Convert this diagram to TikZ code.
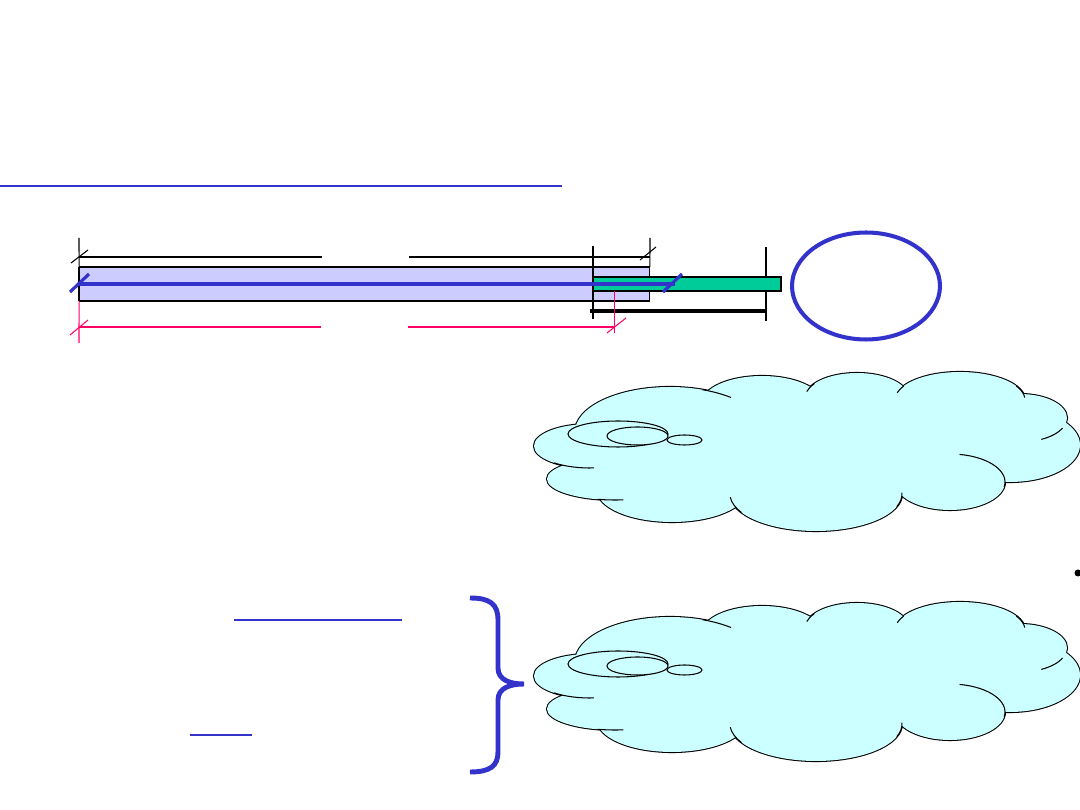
\documentclass[tikz,border=0pt]{standalone}
\usetikzlibrary{shapes.geometric,positioning}

\definecolor{linkblue}{HTML}{3333CC}
\definecolor{barfill}{HTML}{CCCCFF}
\definecolor{tipgreen}{HTML}{00CC99}
\definecolor{cloudcyan}{HTML}{CCFFFF}
\definecolor{dimpink}{HTML}{FF0066}

% puffs: cx/cy/rx/ry, stubs: cx/cy/rx/ry/from/to
\newcommand\cloudpuffs{590/446/56/22, 615/479/68/21, 672/490/75/32, 816/494/86/37,
  950/482/55/28, 1010/445/70/37, 1020/418/47/24, 960/400/65/28, 857/398/52/25,
  762/403/60/27, 670/432/95/45}
\newcommand\cloudstubs{590/446/56/22/86/130, 615/479/68/21/83/105, 816/494/86/37/150/175,
  816/494/86/37/-2/20, 950/482/55/28/-80/10, 1020/418/47/24/25/63, 960/400/65/28/-30/-5,
  670/432/95/45/-70/-50, 857/398/52/25/-165/-145, 960/400/65/28/-165/-150}

\newcommand\drawcloud[1]{%
  \begin{scope}[shift={(0,#1)}]
    \foreach \cx/\cy/\rx/\ry in \cloudpuffs
      \draw[cloudline] (\cx,\cy) ellipse[x radius=\rx, y radius=\ry];
    \foreach \cx/\cy/\rx/\ry in \cloudpuffs
      \fill[cloudcyan] (\cx,\cy) ellipse[x radius=\rx, y radius=\ry];
    \fill[cloudcyan] (810,450) ellipse[x radius=230, y radius=50];
    \foreach \cx/\cy/\rx/\ry/\a/\b in \cloudstubs
      \draw[stub] ({\cx+\rx*cos(\a)},{\cy+\ry*sin(\a)})
        arc[start angle=\a, end angle=\b, x radius=\rx, y radius=\ry];
    \draw[bubble] (618,434) ellipse[x radius=50, y radius=13];
    \draw[bubble] (637.5,436) ellipse[x radius=30.5, y radius=9];
    \draw[bubble] (684.5,440) ellipse[x radius=17.5, y radius=5];
  \end{scope}}

\begin{document}
\begin{tikzpicture}[x=0.02cm, y=-0.02cm,
    bar/.style={draw, line width=0.6pt, inner sep=0pt, outer sep=0pt},
    dimline/.style={line width=0.6pt},
    pinkdim/.style={dimpink, line width=0.6pt},
    axis/.style={linkblue, line width=1.8pt},
    uline/.style={linkblue, line width=1.6pt},
    cloudline/.style={line width=1.2pt},
    stub/.style={line width=0.6pt},
    bubble/.style={draw, fill=cloudcyan, line width=0.6pt}
  ]
  \useasboundingbox (0,0) rectangle (1080,810);

  \draw[uline] (0,186) -- (562,186);

  \node[bar, fill=barfill, minimum width=11.42cm, minimum height=0.68cm] (shaft) at (364.5,284) {};
  \draw[line width=1.1pt] (shaft.north west) -- (shaft.south west);

  \draw[dimline] (79,238) -- (shaft.north west);
  \draw[dimline] (650,238) -- (shaft.north east);
  \draw[dimline] (79,257) -- (322,257) (409,257) -- (650,257);
  \draw[dimline] (71,263) -- (88,250) (640,260) -- (656,247);
  \draw[dimline] (593,246) -- (593,319);
  \draw[dimline] (766,247) -- (766,321);
  \draw[line width=1.8pt] (590,311) -- (767,311);

  \node[bar, fill=tipgreen, minimum width=3.76cm, minimum height=0.28cm] (tip) at (687,284) {};
  \draw[line width=1.2pt] (tip.north east) -- (tip.south east) -- (tip.south west);

  \draw[pinkdim] (shaft.south west) -- (79,343);
  \draw[pinkdim] (79,327) -- (321,327) (408,327) -- (615,327);
  \draw[pinkdim] (614.5,291) -- (614.5,333);
  \draw[pinkdim] (70,335) -- (88,320) (607,333) -- (626,318);

  \draw[axis] (shaft.west) -- (675,284) coordinate (axend);
  \draw[axis] (70,292) -- (89,274);
  \draw[axis] (663,292) -- (682,274);

  \node[draw=linkblue, line width=2.3pt, ellipse, minimum width=2.96cm, minimum height=2.14cm, inner sep=0pt] (ring) at (866,286) {};

  \drawcloud{0}
  \drawcloud{230}

  \draw[uline] (234,620) -- (402,620);
  \draw[uline] (190,735) -- (252,735);

  \draw[linkblue, line width=2.8pt] (470,598) .. controls (490,598) and (498,604) .. (498,620)
    -- (498,668) .. controls (498,680) and (510,684) .. (524,684)
    .. controls (510,684) and (498,688) .. (498,700)
    -- (498,752) .. controls (498,766) and (490,772) .. (470,772);

  \fill (1078,573) circle[radius=3.5];
\end{tikzpicture}
\end{document}
